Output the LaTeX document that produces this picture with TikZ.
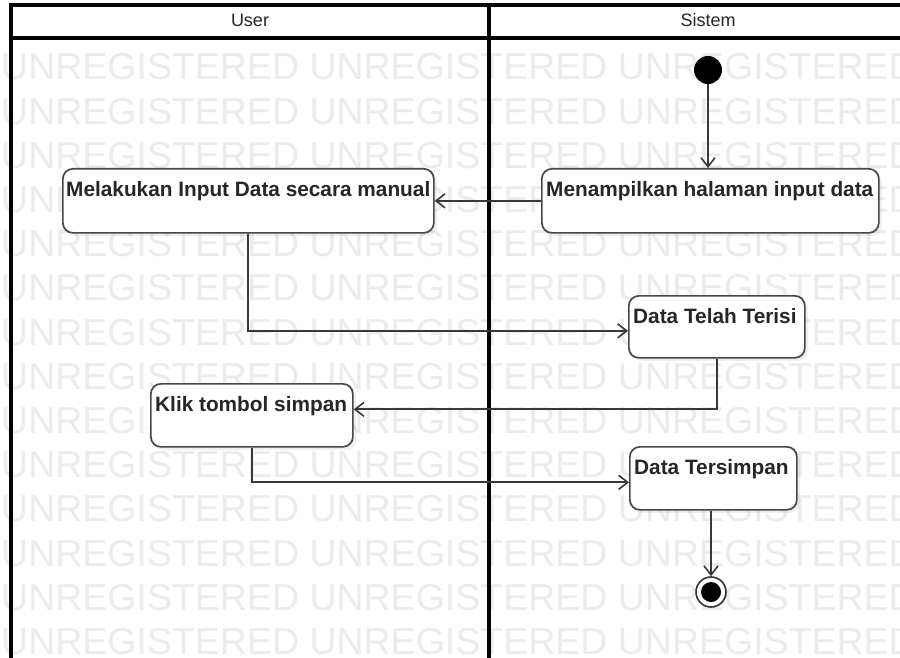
\documentclass[tikz,border=0pt]{standalone}
\usepackage{fontspec}
\setmainfont{Liberation Sans}
\usetikzlibrary{arrows.meta,calc,shadows}
\begin{document}
\begin{tikzpicture}[x=1pt,y=-1pt,
  act/.style={draw=black!72, line width=1.7pt, rounded corners=10pt, fill=white, anchor=north west, inner sep=0pt,
    drop shadow={shadow xshift=3pt, shadow yshift=-3pt, opacity=0.12}},
  lbl/.style={anchor=north west, inner sep=0pt, text=black!85, font=\fontsize{20.8}{24}\selectfont\bfseries},
  head/.style={inner sep=0pt, text=black!85, font=\fontsize{18}{20}\selectfont},
  flow/.style={draw=black!78, line width=1.8pt, -{Straight Barb[length=9pt,width=14pt,line width=1.6pt]}},
  lane/.style={draw=black, line width=3.2pt},
  wm/.style={anchor=west, inner sep=0pt, text=black!8, font=\fontsize{37.5}{40}\selectfont}
]
\path[use as bounding box] (0,0) rectangle (900,658);
\fill[white] (0,0) rectangle (900,658);
% watermark
\foreach \k in {1,...,14} {
  \node[wm] (wm\k) at (1,{22.8+44.2*\k}) {UNREGISTERED UNREGISTERED UNREGISTERED};
}
% lanes
\fill[white] (11,5) rectangle (900,38);
\draw[lane] (11,658) -- (11,5) -- (900,5);
\draw[lane] (11,38) -- (900,38);
\draw[lane] (489,5) -- (489,658);
\node[head] (userlbl) at (250,20) {User};
\node[head] (sistemlbl) at (708,20) {Sistem};
% initial
\node[circle, fill=black, minimum size=28pt, inner sep=0pt] (init) at (708,70) {};
% activities
\node[act, minimum width=337pt, minimum height=64pt] (tampil) at (541,168) {};
\node[lbl] (tampiltxt) at (546,181) {Menampilkan halaman input data};
\node[act, minimum width=371pt, minimum height=64pt] (input) at (62,168) {};
\node[lbl] (inputtxt) at (66,181) {Melakukan Input Data secara manual};
\node[act, minimum width=176pt, minimum height=62pt] (terisi) at (628,295) {};
\node[lbl] (terisitxt) at (633,308) {Data Telah Terisi};
\node[act, minimum width=202pt, minimum height=63pt] (klik) at (150,383) {};
\node[lbl] (kliktxt) at (155,396) {Klik tombol simpan};
\node[act, minimum width=167pt, minimum height=63pt] (simpan) at (629,446) {};
\node[lbl] (simpantxt) at (634,459) {Data Tersimpan};
% final
\node[circle, draw=black!80, line width=1.6pt, fill=white, minimum size=30pt, inner sep=0pt] (final) at (711,592) {};
\node[circle, fill=black, minimum size=20pt, inner sep=0pt] (finaldot) at (final.center) {};
% flows
\draw[flow] (init) -- (init |- tampil.north);
\draw[flow] (tampil.west) -- (input.east);
\draw[flow] (input.south) |- ($(terisi.west)+(0,4)$);
\draw[flow] (terisi.south) |- ($(klik.east)+(0,-6)$);
\draw[flow] (klik.south) |- ($(simpan.west)+(0,4)$);
\draw[flow] (simpan.south -| final) -- (final.north);
\end{tikzpicture}
\end{document}
